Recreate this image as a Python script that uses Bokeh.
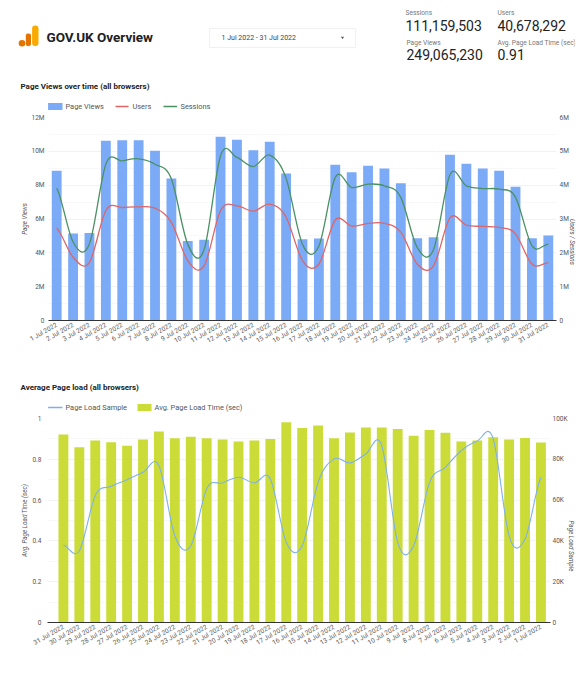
from bokeh.core.properties import value
from bokeh.embed import file_html
from bokeh.resources import INLINE
from bokeh.plotting import figure
from bokeh.layouts import column
from bokeh.models import Range1d, LinearAxis, FixedTicker, ColumnDataSource

FONT = "Roboto"

# --- scorecards
card_labels = ["Sessions", "Users", "Page Views", "Avg. Page Load Time (sec)"]
card_values = ["111,159,503", "40,678,292", "249,065,230", "0.91"]
report_title = "GOV.UK Overview"
date_filter = "1 Jul 2022 - 31 Jul 2022"

# --- chart 1
days_forward = [f"{d} Jul 2022" for d in range(1, 32)]
page_views = [8.85e6, 5.15e6, 5.17e6, 10.62e6, 10.66e6, 10.66e6, 10.03e6, 8.40e6, 4.70e6, 4.78e6,
              10.86e6, 10.68e6, 10.07e6, 10.56e6, 8.69e6, 4.80e6, 4.84e6, 9.20e6, 8.77e6, 9.15e6,
              8.99e6, 8.12e6, 4.86e6, 4.92e6, 9.80e6, 9.27e6, 8.99e6, 8.85e6, 7.91e6, 4.86e6, 5.02e6]
users = [2.73e6, 1.87e6, 1.72e6, 3.25e6, 3.34e6, 3.36e6, 3.32e6, 2.90e6, 1.77e6, 1.62e6,
         3.25e6, 3.39e6, 3.23e6, 3.44e6, 3.05e6, 1.77e6, 1.67e6, 2.97e6, 2.79e6, 2.87e6,
         2.87e6, 2.61e6, 1.67e6, 1.62e6, 3.03e6, 2.82e6, 2.78e6, 2.75e6, 2.56e6, 1.67e6, 1.71e6]
sessions = [3.91e6, 2.32e6, 2.27e6, 4.62e6, 4.72e6, 4.78e6, 4.62e6, 4.18e6, 2.25e6, 2.10e6,
            4.87e6, 4.82e6, 4.55e6, 4.89e6, 4.20e6, 2.25e6, 2.20e6, 4.23e6, 3.93e6, 4.03e6,
            3.98e6, 3.64e6, 2.16e6, 2.10e6, 4.31e6, 3.98e6, 3.90e6, 3.88e6, 3.64e6, 2.21e6, 2.26e6]
pv_ticks = [0, 2e6, 4e6, 6e6, 8e6, 10e6, 12e6]
pv_tick_labels = ["0", "2M", "4M", "6M", "8M", "10M", "12M"]
us_ticks = [0, 1e6, 2e6, 3e6, 4e6, 5e6, 6e6]
us_tick_labels = ["0", "1M", "2M", "3M", "4M", "5M", "6M"]

# --- chart 2
days_backward = [f"{d} Jul 2022" for d in range(31, 0, -1)]
load_time = [0.921, 0.859, 0.892, 0.884, 0.867, 0.897, 0.936, 0.903, 0.910, 0.903, 0.897,
             0.887, 0.892, 0.900, 0.982, 0.954, 0.966, 0.903, 0.931, 0.956, 0.956, 0.949,
             0.915, 0.944, 0.930, 0.887, 0.892, 0.908, 0.897, 0.905, 0.882]
load_sample = [38000, 35200, 62200, 66800, 70000, 73600, 76900, 42500, 37600, 65500, 68400,
               71200, 68400, 70400, 39300, 37600, 68700, 80200, 78200, 82600, 86700, 39300,
               37600, 68700, 76100, 84300, 89000, 90000, 42500, 40900, 71200]
lt_ticks = [0, 0.2, 0.4, 0.6, 0.8, 1]
lt_tick_labels = ["0", "0.2", "0.4", "0.6", "0.8", "1"]
ls_ticks = [0, 20000, 40000, 60000, 80000, 100000]
ls_tick_labels = ["0", "20K", "40K", "60K", "80K", "100K"]

BLUE = "#7baaf7"
RED = "#e06666"
GREEN = "#4a9163"
LIME = "#cbdc38"
SKY = "#7fb0ea"
TICK = "#555555"
GRID = "#f2f2f2"
GRID2 = "#f8f8f8"


def smooth_source(values, k=0.18):
    """Bezier segments through the daily values."""
    n = len(values)
    d = dict(x0=[], y0=[], x1=[], y1=[], cx0=[], cy0=[], cx1=[], cy1=[])
    for i in range(n - 1):
        a = values[max(i - 1, 0)]
        b = values[i]
        c = values[i + 1]
        e = values[min(i + 2, n - 1)]
        d["x0"].append(i); d["y0"].append(b)
        d["x1"].append(i + 1); d["y1"].append(c)
        d["cx0"].append(i + 1 / 3); d["cy0"].append(b + (c - a) * k)
        d["cx1"].append(i + 2 / 3); d["cy1"].append(c - (e - b) * k)
    return ColumnDataSource(d)


def add_curve(p, values, color, y_range_name, width=1.3):
    return p.bezier(x0="x0", y0="y0", x1="x1", y1="y1", cx0="cx0", cy0="cy0", cx1="cx1", cy1="cy1",
                    source=smooth_source(values), line_color=color, line_width=width,
                    y_range_name=y_range_name)


def make_chart(days, x_start, x_end, frame_w, frame_h, left, right, top, total_h,
               y_max, y_ticks, y_labels, y_title, r_max, r_ticks, r_labels, r_title,
               l_standoff, r_standoff):
    p = figure(width=567, height=total_h, frame_width=frame_w, frame_height=frame_h,
               output_backend="svg", toolbar_location=None, frame_align=False,
               x_range=Range1d(x_start, x_end), y_range=Range1d(0, y_max),
               min_border_left=left, min_border_right=right, min_border_top=top,
               min_border_bottom=total_h - top - frame_h, outline_line_color=None)
    p.extra_y_ranges = {"right": Range1d(0, r_max)}
    p.xgrid.visible = False
    step = y_ticks[1] - y_ticks[0]
    p.yaxis.ticker = FixedTicker(ticks=y_ticks,
                                 minor_ticks=[t + step / 2 for t in y_ticks[:-1]])
    p.ygrid.grid_line_color = GRID
    p.ygrid.grid_line_width = 1
    p.ygrid.minor_grid_line_color = GRID2
    p.yaxis.major_label_overrides = dict(zip(y_ticks, y_labels))
    p.yaxis.axis_label = y_title

    r = LinearAxis(y_range_name="right", ticker=FixedTicker(ticks=r_ticks),
                   major_label_overrides=dict(zip(r_ticks, r_labels)), axis_label=r_title,
                   axis_label_orientation=-1.5708)
    p.add_layout(r, "right")

    p.xaxis.ticker = FixedTicker(ticks=list(range(len(days))))
    p.xaxis.major_label_overrides = {i: d for i, d in enumerate(days)}
    p.xaxis.major_label_orientation = 0.52
    p.xaxis.major_label_standoff = 4
    p.xaxis.axis_line_color = "#333333"
    p.xaxis.axis_line_width = 1

    p.yaxis[0].axis_line_color = None
    r.axis_line_color = None
    p.yaxis[0].major_label_standoff = l_standoff
    r.major_label_standoff = r_standoff
    p.yaxis[0].axis_label_standoff = 0
    r.axis_label_standoff = 0
    for ax in (p.yaxis[0], r, p.xaxis[0]):
        ax.major_tick_line_color = None
        ax.minor_tick_line_color = None
        ax.major_tick_out = 0
        ax.major_tick_in = 0
        ax.minor_tick_out = 0
        ax.minor_tick_in = 0
        ax.major_label_text_font = FONT
        ax.major_label_text_font_size = "6.5px"
        ax.major_label_text_color = TICK
        ax.axis_label_text_font = FONT
        ax.axis_label_text_font_size = "6.3px"
        ax.axis_label_text_font_style = "italic"
        ax.axis_label_text_color = TICK
    return p


def strip(y_top, y_bottom):
    """A figure whose scales are page pixels, for headings and legends."""
    s = figure(width=567, height=y_bottom - y_top, frame_width=567, frame_height=y_bottom - y_top,
               output_backend="svg", toolbar_location=None, frame_align=False,
               x_range=Range1d(8, 575), y_range=Range1d(y_bottom, y_top),
               min_border=0, outline_line_color=None)
    s.axis.visible = False
    s.grid.visible = False
    return s


def heading(s, text, y):
    s.text(x=[20], y=[y], text=[text], text_font=value(FONT), text_font_size="8px",
           text_font_style="bold", text_color="#222222", text_baseline="middle")


def legend_label(s, text, x, y):
    s.text(x=[x], y=[y], text=[text], text_font=value(FONT), text_font_size="7.4px",
           text_color="#555555", text_baseline="middle")


def legend_swatch(s, x0, x1, y, color):
    s.quad(left=[x0], right=[x1], top=[y - 3.5], bottom=[y + 3.5], fill_color=color, line_color=None)


def legend_line(s, x0, x1, y, color):
    s.line(x=[x0, x1], y=[y, y], line_color=color, line_width=1.3)


# ------------------------------------------------------------ header
h = strip(8, 75)
h.circle(x=[21.5], y=[42.7], radius=3.3, fill_color="#e37400", line_color=None)
h.quad(left=[25.3], right=[30.5], top=[33], bottom=[45.6], fill_color="#e37400", line_color=None,
       border_radius=2)
h.quad(left=[31.6], right=[38], top=[25], bottom=[45.6], fill_color="#f9ab00", line_color=None,
       border_radius=3)
h.text(x=[46], y=[36], text=[report_title], text_font=value(FONT), text_font_size="13.5px",
       text_font_style="bold", text_color="#202124", text_baseline="middle")
h.quad(left=[209], right=[355], top=[28], bottom=[47], fill_color="white", line_color="#f1f1f1")
h.text(x=[221], y=[37], text=[date_filter], text_font=value(FONT), text_font_size="7px",
       text_color="#444444", text_baseline="middle")
h.scatter(x=[342], y=[37], marker="inverted_triangle", size=3, fill_color="#555555", line_color=None)
for x, yl, yv, lab, val in [(405, 12.5, 24.5, card_labels[0], card_values[0]),
                            (497, 12.5, 24.5, card_labels[1], card_values[1]),
                            (406, 42, 54, card_labels[2], card_values[2]),
                            (497, 42, 54, card_labels[3], card_values[3])]:
    h.text(x=[x], y=[yl], text=[lab], text_font=value(FONT), text_font_size="6.6px", text_color="#777777",
           text_baseline="middle")
    h.text(x=[x], y=[yv], text=[val], text_font=value(FONT), text_font_size="14px", text_color="#222222",
           text_baseline="middle")

# ------------------------------------------------------------ chart 1
s1 = strip(75, 112)
heading(s1, "Page Views over time (all browsers)", 86)
legend_swatch(s1, 47.6, 62, 106, BLUE)
legend_label(s1, "Page Views", 65, 106)
legend_line(s1, 115, 128, 106, RED)
legend_label(s1, "Users", 132, 106)
legend_line(s1, 163, 176.6, 106, GREEN)
legend_label(s1, "Sessions", 180, 106)

p1 = make_chart(days_forward, -0.5, 30.5, 508, 203, 40, 19, 5, 263,
                12e6, pv_ticks, pv_tick_labels, "Page Views",
                6e6, us_ticks, us_tick_labels, "Users / Sessions", 4, 3)
p1.vbar(x=list(range(31)), top=page_views, width=0.6, bottom=0, fill_color=BLUE, line_color=None)
add_curve(p1, users, RED, "right")
add_curve(p1, sessions, GREEN, "right")

# ------------------------------------------------------------ chart 2
s2 = strip(375, 413)
heading(s2, "Average Page load (all browsers)", 387)
legend_line(s2, 47.6, 62, 407, SKY)
legend_label(s2, "Page Load Sample", 65, 407)
legend_swatch(s2, 137, 151, 407, LIME)
legend_label(s2, "Avg. Page Load Time (sec)", 154, 407)

p2 = make_chart(days_backward, -1.0, 30.6, 503, 204, 39, 25, 5, 247,
                1, lt_ticks, lt_tick_labels, "Avg. Page Load Time (sec)",
                100000, ls_ticks, ls_tick_labels, "Page Load Sample", 6, 2)
p2.vbar(x=list(range(31)), top=load_time, width=0.62, bottom=0, fill_color=LIME, line_color=None)
add_curve(p2, load_sample, SKY, "right", width=1.1)

page = column(h, s1, p1, s2, p2, spacing=0, margin=(8, 0, 0, 8))
open("out.html", "w").write(file_html(page, INLINE))
